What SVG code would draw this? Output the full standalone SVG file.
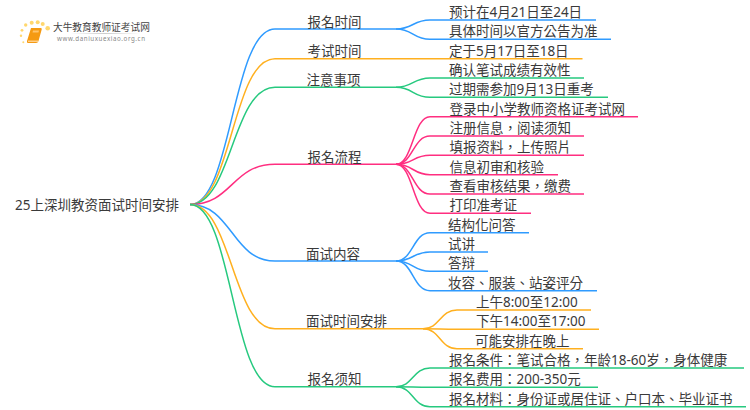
<svg xmlns="http://www.w3.org/2000/svg" width="750" height="410" viewBox="0 0 750 410">
<style>
text{font-family:"Noto Sans","Noto Sans CJK TC",sans-serif;font-size:13.5px;fill:#3a3a3a}
#connectors path{fill:none;stroke-width:1.5}
.b{stroke:#2f9bff}.o{stroke:#ffb01f}.g{stroke:#26c97f}.p{stroke:#ff2e80}
</style>
<defs><linearGradient id="sh"><stop offset="0" stop-color="#ccc" stop-opacity="0"/><stop offset=".5" stop-color="#ccc"/><stop offset="1" stop-color="#ccc" stop-opacity="0"/></linearGradient></defs>
<rect width="750" height="410" fill="#fff"/>
<g id="connectors">
<path class="b" d="M190 204.6C232 204.6 232 29 275 29H396"/>
<path class="o" d="M190 204.6C232 204.6 232 58.7 275 58.7H396"/>
<path class="g" d="M190 204.6C232 204.6 232 87.3 275 87.3H396"/>
<path class="p" d="M190 204.6C232 204.6 232 164.3 275 164.3H396"/>
<path class="b" d="M190 204.6C232 204.6 232 261 275 261H396"/>
<path class="o" d="M190 204.6C232 204.6 232 328.7 275 328.7H423"/>
<path class="g" d="M190 204.6C232 204.6 232 386.7 275 386.7H396"/>
<path class="b" d="M396 29C413 29 413 20 430 20H596"/>
<path class="b" d="M396 29C413 29 413 39.3 430 39.3H611"/>
<path class="o" d="M396 58.7H582.5"/>
<path class="g" d="M396 87.3C413 87.3 413 78 430 78H584"/>
<path class="g" d="M396 87.3C413 87.3 413 97.3 430 97.3H608"/>
<path class="p" d="M396 164.3C413 164.3 413 116.7 430 116.7H638"/>
<path class="p" d="M396 164.3C413 164.3 413 136 430 136H584"/>
<path class="p" d="M396 164.3C413 164.3 413 155.3 430 155.3H584"/>
<path class="p" d="M396 164.3C413 164.3 413 174.7 430 174.7H558"/>
<path class="p" d="M396 164.3C413 164.3 413 194 430 194H584"/>
<path class="p" d="M396 164.3C413 164.3 413 213.3 430 213.3H531"/>
<path class="b" d="M396 261C413 261 413 232.7 430 232.7H529"/>
<path class="b" d="M396 261C413 261 413 252 430 252H488"/>
<path class="b" d="M396 261C413 261 413 271.3 430 271.3H488"/>
<path class="b" d="M396 261C413 261 413 290.7 430 290.7H597"/>
<path class="o" d="M423 328.7C440 328.7 440 310 457 310H591"/>
<path class="o" d="M423 328.7C440 328.7 440 329.3 457 329.3H599"/>
<path class="o" d="M423 328.7C440 328.7 440 348.7 457 348.7H583"/>
<path class="g" d="M396 386.7C413 386.7 413 368 430 368H744"/>
<path class="g" d="M396 386.7C413 386.7 413 387.3 430 387.3H598"/>
<path class="g" d="M396 386.7C413 386.7 413 406.7 430 406.7H746"/>
</g>
<g id="logo">
<g fill="#ffd76e">
<circle cx="47.700" cy="28.300" r="2.300"/><circle cx="42.700" cy="24" r="2"/><circle cx="37.700" cy="22.300" r="2"/><circle cx="31.700" cy="22.700" r="2"/><circle cx="25.700" cy="25" r="1.700"/><circle cx="22" cy="30.300" r="1.400"/><circle cx="21" cy="35.700" r="1.200"/><circle cx="23.300" cy="42.300" r="1"/>
</g>
<path d="M31 28H41Q42 28 41.700 29.500L38.500 41Q38 43 36 43H28Q26.500 43 27 41Z" fill="#f59a12"/>
<path d="M28 40.500H38.300L38 42H28Z" fill="#ffd08a"/>
<path d="M33 30.500H39L38.500 32.500H32.500Z" fill="#ffc46a"/>
<rect x="70" y="33" width="70" height="1" fill="url(#sh)"/>
<text x="53" y="31" style="font-size:9.700px;fill:#444">大牛教育教师证考试网</text>
<text x="57" y="41" style="font-size:6.200px;fill:#888;letter-spacing:.58px">www.daniuxuexiao.org.cn</text>
</g>
<g id="root"><text x="15" y="210" textLength="164">25上深圳教资面试时间安排</text></g>
<g id="n1"><text x="307.500" y="26.700">报名时间</text></g>
<g id="n2"><text x="307.500" y="56">考试时间</text></g>
<g id="n3"><text x="306.500" y="84.700">注意事项</text></g>
<g id="n4"><text x="307.500" y="161.700">报名流程</text></g>
<g id="n5"><text x="306" y="258.500">面试内容</text></g>
<g id="n6"><text x="306" y="326">面试时间安排</text></g>
<g id="n7"><text x="307.500" y="384">报名须知</text></g>
<g id="l1"><text x="449" y="17.300">预计在4月21日至24日</text></g>
<g id="l2"><text x="449" y="36.300">具体时间以官方公告为准</text></g>
<g id="l3"><text x="449" y="55.800">定于5月17日至18日</text></g>
<g id="l4"><text x="449" y="75.300">确认笔试成绩有效性</text></g>
<g id="l5"><text x="449" y="94.300">过期需参加9月13日重考</text></g>
<g id="l6"><text x="449.500" y="113.800">登录中小学教师资格证考试网</text></g>
<g id="l7"><text x="449.500" y="133.300">注册信息，阅读须知</text></g>
<g id="l8"><text x="449.500" y="152.300">填报资料，上传照片</text></g>
<g id="l9"><text x="449.500" y="171.800">信息初审和核验</text></g>
<g id="l10"><text x="449.500" y="191.300">查看审核结果，缴费</text></g>
<g id="l11"><text x="449.500" y="210.300">打印准考证</text></g>
<g id="l12"><text x="448" y="229.800">结构化问答</text></g>
<g id="l13"><text x="448" y="249.300">试讲</text></g>
<g id="l14"><text x="448" y="268.300">答辩</text></g>
<g id="l15"><text x="448" y="287.800">妆容、服装、站姿评分</text></g>
<g id="l16"><text x="476" y="307.300">上午8:00至12:00</text></g>
<g id="l17"><text x="476" y="326.300">下午14:00至17:00</text></g>
<g id="l18"><text x="475" y="345.800">可能安排在晚上</text></g>
<g id="l19"><text x="449" y="365.300">报名条件：笔试合格，年龄18-60岁，身体健康</text></g>
<g id="l20"><text x="449" y="384.300">报名费用：200-350元</text></g>
<g id="l21"><text x="449" y="403.800">报名材料：身份证或居住证、户口本、毕业证书</text></g>
</svg>
